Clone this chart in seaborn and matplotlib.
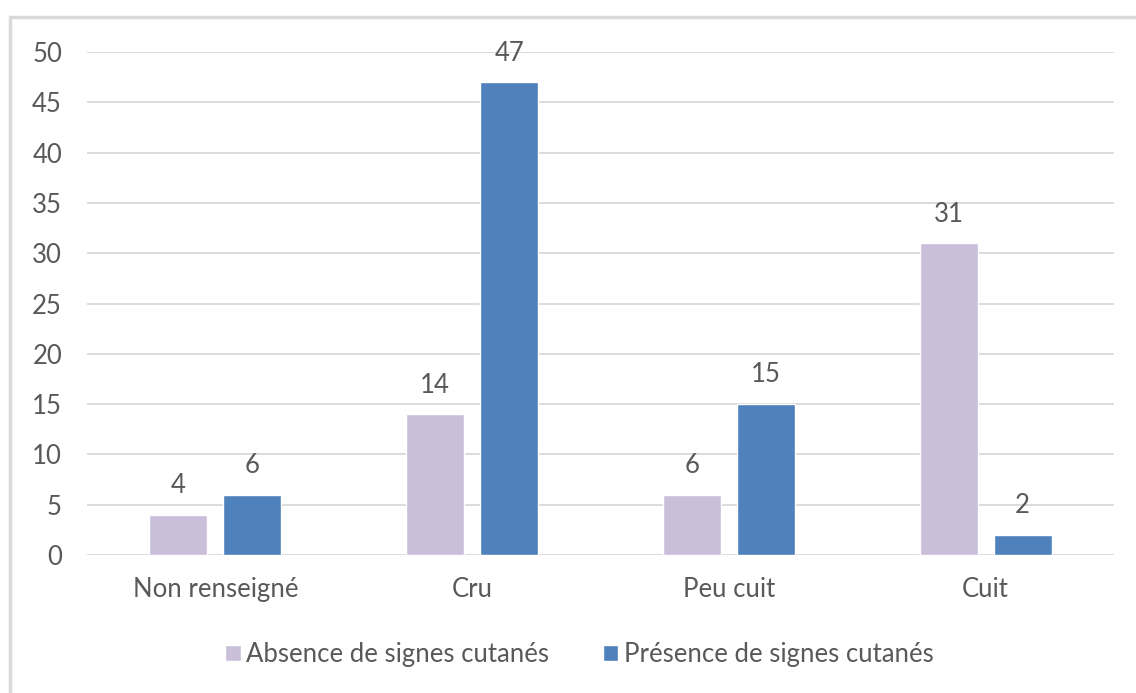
import matplotlib
matplotlib.use("Agg")
import matplotlib.pyplot as plt
from matplotlib.lines import Line2D
import seaborn as sns
import pandas as pd

categories = ["Non renseigné", "Cru", "Peu cuit", "Cuit"]
series_names = ["Absence de signes cutanés", "Présence de signes cutanés"]
absence = [4, 14, 6, 31]
presence = [6, 47, 15, 2]
colors = ["#C9BFDA", "#4F81BD"]

df = pd.DataFrame({
    "cat": categories * 2,
    "serie": [series_names[0]] * 4 + [series_names[1]] * 4,
    "val": absence + presence,
})

sns.set_style("white")
plt.rcParams["font.family"] = ["Lato", "DejaVu Sans"]
txt = "#595959"
fs = 18.5

fig = plt.figure(figsize=(11.36, 6.93), dpi=100)
ax = fig.add_axes([0.0766, 0.1991, 0.904, 0.7258])

sns.barplot(data=df, x="cat", y="val", hue="serie", palette=colors,
            width=0.577, gap=0.217, ax=ax, saturation=1, legend=True)

for c in ax.containers:
    ax.bar_label(c, padding=12, fontsize=fs, color=txt)

ax.set_ylim(0, 50)
ax.set_xlim(-0.5, 3.5)
ax.set_yticks(range(0, 51, 5))
ax.yaxis.grid(True, color="#D9D9D9", linewidth=1.3)
ax.set_axisbelow(True)
for s in ax.spines.values():
    s.set_visible(False)
ax.tick_params(axis="y", length=0, pad=18, labelsize=fs, labelcolor=txt)
ax.tick_params(axis="x", length=0, pad=16, labelsize=fs, labelcolor=txt)
ax.set_xlabel("")
ax.set_ylabel("")

ax.legend(handles=ax.get_legend().legend_handles, labels=series_names,
          loc="center", bbox_to_anchor=(0.51, 0.055), bbox_transform=fig.transFigure,
          ncol=2, frameon=False, fontsize=fs, labelcolor=txt,
          handlelength=0.6, handleheight=0.6, handletextpad=0.2, columnspacing=2.1)

# cadre gris du graphique
fig.add_artist(Line2D([10 / 1136, 1], [1 - 17 / 693, 1 - 17 / 693],
                      color="#D9D9D9", linewidth=2.5, transform=fig.transFigure))
fig.add_artist(Line2D([10 / 1136, 10 / 1136], [0, 1 - 17 / 693],
                      color="#D9D9D9", linewidth=2.5, transform=fig.transFigure))

fig.savefig("out.png", dpi=100)
